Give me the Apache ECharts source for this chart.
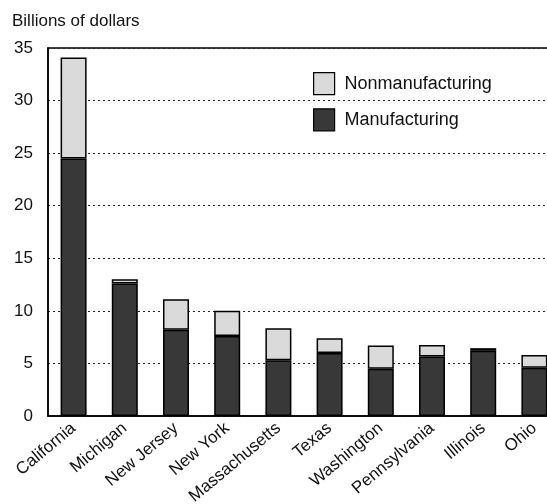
<!DOCTYPE html>
<html>
<head>
<meta charset="utf-8">
<script src="https://cdn.jsdelivr.net/npm/echarts@6/dist/echarts.min.js"></script>
<style>
  html, body { margin: 0; padding: 0; background: #fff; }
  #main { width: 547px; height: 504px; }
</style>
</head>
<body>
<div id="main"></div>
<script>
var states = ["California", "Michigan", "New Jersey", "New York", "Massachusetts",
    "Texas", "Washington", "Pennsylvania", "Illinois", "Ohio"];
var manufacturing = [24.5, 12.6, 8.2, 7.6, 5.3, 6.0, 4.5, 5.65, 6.2, 4.6];
var nonmanufacturing = [9.6, 0.4, 2.9, 2.4, 3.05, 1.4, 2.2, 1.1, 0.25, 1.2];
var yTicks = [0, 5, 10, 15, 20, 25, 30, 35];

var chart = echarts.init(document.getElementById("main"));

var font = "'Liberation Sans', Arial, sans-serif";

var options = {
    animation: false,
    backgroundColor: "#fff",
    textStyle: { fontFamily: font },
    title: {
        text: "Billions of dollars",
        left: 7,
        top: 8,
        textStyle: { fontSize: 17, fontWeight: "normal", color: "#111", fontFamily: font },
    },
    legend: {
        orient: "vertical",
        left: 308,
        top: 67,
        itemWidth: 21,
        itemHeight: 22,
        itemGap: 13,
        itemStyle: { borderColor: "#000", borderWidth: 1.2 },
        data: [
            { name: "Nonmanufacturing", icon: "rect" },
            { name: "Manufacturing", icon: "rect" },
        ],
        textStyle: { fontSize: 18, color: "#111", fontFamily: font, padding: [0, 0, 0, 5] },
    },
    grid: {
        left: 48,
        width: 512,
        top: 48,
        height: 368,
        outerBoundsMode: "none",
        containLabel: false,
        show: true,
        borderColor: "#000",
        borderWidth: 1.5,
    },
    xAxis: {
        type: "category",
        data: states,
        axisLine: { lineStyle: { color: "#000", width: 1.5 } },
        axisTick: { show: false },
        axisLabel: {
            interval: 0,
            rotate: 40,
            margin: 10,
            fontSize: 17,
            color: "#111",
            fontFamily: font,
        },
    },
    yAxis: {
        type: "value",
        min: yTicks[0],
        max: yTicks[yTicks.length - 1],
        interval: 5,
        axisLine: { show: true, lineStyle: { color: "#000", width: 1.5 } },
        axisTick: { show: false },
        axisLabel: { fontSize: 17, color: "#111", margin: 15, fontFamily: font },
        splitLine: { lineStyle: { type: [2, 3], color: "#222", width: 1 } },
    },
    series: [
        {
            name: "Manufacturing",
            type: "bar",
            stack: "total",
            barWidth: 26,
            data: manufacturing,
            itemStyle: { color: "#383838", borderColor: "#000", borderWidth: 1.5 },
        },
        {
            name: "Nonmanufacturing",
            type: "bar",
            stack: "total",
            barWidth: 26,
            data: nonmanufacturing,
            itemStyle: { color: "#dadada", borderColor: "#000", borderWidth: 1.5 },
        },
    ],
};

chart.setOption(options);

window.onresize = function() {
    chart.resize();
};
</script>
</body>
</html>
